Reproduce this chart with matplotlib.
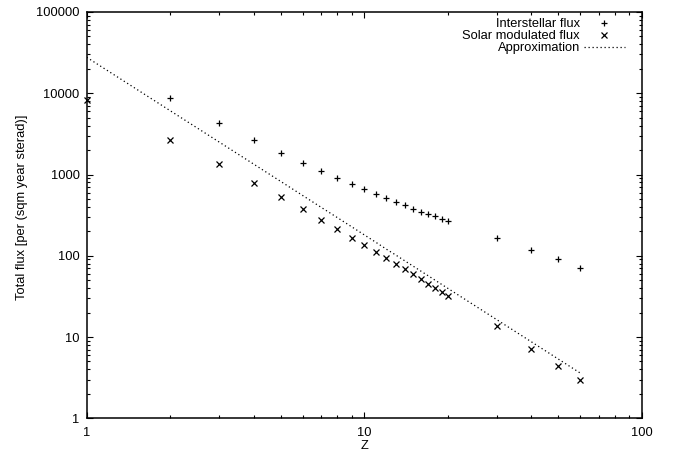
import numpy as np
import matplotlib
matplotlib.use("Agg")
import matplotlib.pyplot as plt
from matplotlib.ticker import FuncFormatter, LogLocator, NullFormatter

plt.rcParams['font.family'] = ['Liberation Sans', 'DejaVu Sans']

# charge number of the nuclei
z_inter = [2, 3, 4, 5, 6, 7, 8, 9, 10, 11, 12, 13, 14, 15, 16, 17, 18, 19, 20,
           30, 40, 50, 60]
flux_inter = [8670, 4340, 2660, 1860, 1400, 1105, 906, 764, 658, 571, 510, 459,
              418, 380, 349, 327, 309, 284, 268,
              167, 118, 90.5, 71.3]

z_solar = [1, 2, 3, 4, 5, 6, 7, 8, 9, 10, 11, 12, 13, 14, 15, 16, 17, 18, 19, 20,
           30, 40, 50, 60]
flux_solar = [8260, 2660, 1336, 794, 524, 373, 275, 212, 167, 137, 112, 94, 80,
              68, 59, 52, 45, 40, 35.5, 32,
              13.7, 7.19, 4.44, 2.94]

z_approx = z_solar
flux_approx = [27700, 6090, 2512, 1340, 823, 552, 394, 295, 228, 181, 147, 121,
               102, 86.7, 74.6, 64.8, 56.8, 50.1, 44.5, 39.8,
               16.4, 8.75, 5.37, 3.61]

fs = 9.3
fig = plt.figure(figsize=(6.81, 4.57), dpi=100)
ax = fig.add_axes([0.1273, 0.0847, 0.8150, 0.8891])

ax.plot(z_inter, flux_inter, linestyle='none', marker='+', color='black',
        markersize=5, markeredgewidth=0.9, label='Interstellar flux')
ax.plot(z_solar, flux_solar, linestyle='none', marker='x', color='black',
        markersize=4.2, markeredgewidth=0.9, label='Solar modulated flux',
        clip_on=False)
ax.plot(z_approx, flux_approx, linestyle=(0, (1, 2.2)), color='black',
        linewidth=0.9, label='Approximation')

ax.set_xscale('log')
ax.set_yscale('log')
ax.set_xlim(1, 100)
ax.set_ylim(1, 100000)

fmt = FuncFormatter(lambda v, _: f'{v:g}')
ax.xaxis.set_major_formatter(fmt)
ax.yaxis.set_major_formatter(fmt)
ax.xaxis.set_minor_locator(LogLocator(base=10, subs=np.arange(2, 10)))
ax.yaxis.set_minor_locator(LogLocator(base=10, subs=np.arange(2, 10)))
ax.xaxis.set_minor_formatter(NullFormatter())
ax.yaxis.set_minor_formatter(NullFormatter())

ax.tick_params(which='both', direction='in', top=True, right=True,
               labelsize=fs, width=0.8, color='black')
ax.tick_params(which='major', length=4.5)
ax.tick_params(which='minor', length=2.3)
ax.tick_params(axis='x', which='major', pad=6)
ax.tick_params(axis='y', which='major', pad=5)

for sp in ax.spines.values():
    sp.set_linewidth(1.1)

ax.set_xlabel('Z', fontsize=fs)
ax.set_ylabel('Total flux [per (sqm year sterad)]', fontsize=fs)
ax.xaxis.set_label_coords(0.5, -0.053)
ax.yaxis.set_label_coords(-0.105, 0.52)

ax.legend(loc='upper right', bbox_to_anchor=(0.970, 0.985), frameon=False,
          markerfirst=False, fontsize=fs, handlelength=3.2, handletextpad=0.3,
          labelspacing=0.0, borderpad=0, borderaxespad=0)

fig.savefig('out.png', dpi=100)
